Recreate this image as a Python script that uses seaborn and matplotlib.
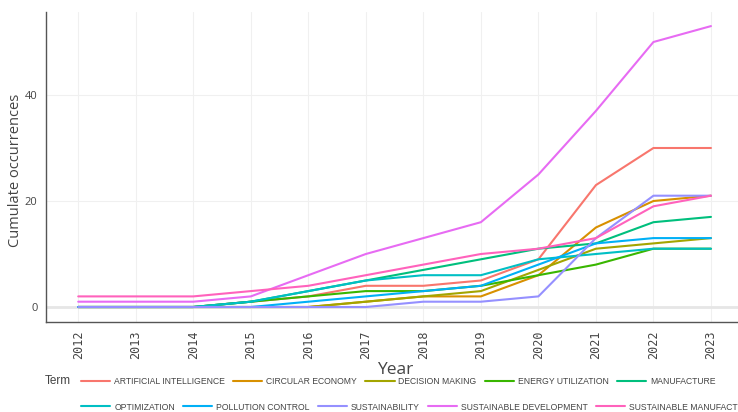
import matplotlib
matplotlib.use("Agg")
import matplotlib.pyplot as plt
from matplotlib import font_manager
import seaborn as sns
import pandas as pd

years = list(range(2012, 2024))
terms = [
    "ARTIFICIAL INTELLIGENCE", "CIRCULAR ECONOMY", "DECISION MAKING",
    "ENERGY UTILIZATION", "MANUFACTURE", "OPTIMIZATION", "POLLUTION CONTROL",
    "SUSTAINABILITY", "SUSTAINABLE DEVELOPMENT", "SUSTAINABLE MANUFACTURING",
]
artificial_intelligence = [0, 0, 0, 1, 2, 4, 4, 5, 9, 23, 30, 30]
circular_economy = [0, 0, 0, 0, 0, 1, 2, 2, 6, 15, 20, 21]
decision_making = [0, 0, 0, 0, 0, 1, 2, 3, 7, 11, 12, 13]
energy_utilization = [0, 0, 0, 1, 2, 3, 3, 4, 6, 8, 11, 11]
manufacture = [0, 0, 0, 1, 3, 5, 7, 9, 11, 12, 16, 17]
optimization = [0, 0, 0, 1, 3, 5, 6, 6, 9, 10, 11, 11]
pollution_control = [0, 0, 0, 0, 1, 2, 3, 4, 8, 12, 13, 13]
sustainability = [0, 0, 0, 0, 0, 0, 1, 1, 2, 13, 21, 21]
sustainable_development = [1, 1, 1, 2, 6, 10, 13, 16, 25, 37, 50, 53]
sustainable_manufacturing = [2, 2, 2, 3, 4, 6, 8, 10, 11, 13, 19, 21]

series = [
    artificial_intelligence, circular_economy, decision_making,
    energy_utilization, manufacture, optimization, pollution_control,
    sustainability, sustainable_development, sustainable_manufacturing,
]
palette = ["#F8766D", "#D89000", "#A3A500", "#39B600", "#00BF7D",
           "#00BFC4", "#00B0F6", "#9590FF", "#E76BF3", "#FF62BC"]

rows = []
for term, vals in zip(terms, series):
    for y, v in zip(years, vals):
        rows.append({"Year": y, "Cumulate occurrences": v, "Term": term})
df = pd.DataFrame(rows)

sns.set_theme(style="white")
installed = {f.name for f in font_manager.fontManager.ttflist}
base_font = "Open Sans" if "Open Sans" in installed else "DejaVu Sans"
narrow_font = "Liberation Sans Narrow" if "Liberation Sans Narrow" in installed else "Liberation Sans"
plt.rcParams["font.family"] = [base_font, "DejaVu Sans"]

fig = plt.figure(figsize=(7.38, 4.12), dpi=100)
ax = fig.add_axes([46 / 738, (412 - 322) / 412, (738 - 46) / 738, (322 - 12) / 412])

# grid and zero line drawn beneath the data
for y in years:
    ax.axvline(y, color="#f0f0f0", lw=0.8, zorder=0)
for g in (20, 40):
    ax.axhline(g, color="#f0f0f0", lw=0.8, zorder=0)
ax.axhline(0, color="#e6e6e6", lw=2.0, zorder=0)

sns.lineplot(data=df, x="Year", y="Cumulate occurrences", hue="Term",
             hue_order=terms, palette=palette, linewidth=1.5, ax=ax,
             estimator=None, legend=True, zorder=3)

handles, labels = ax.get_legend_handles_labels()
ax.get_legend().remove()

ax.set_xlim(2011.44, 2023.47)
ax.set_ylim(-2.83, 55.66)
ax.set_xticks(years)
ax.set_xticklabels([str(y) for y in years], rotation=90,
                   family="DejaVu Sans Mono", fontsize=8.5, color="#444444")
ax.set_yticks([0, 20, 40])
ax.set_yticklabels(["0", "20", "40"], fontsize=8, color="#444444")
ax.tick_params(axis="both", direction="out", length=4, width=0.8,
               color="#555555", pad=2)

for side in ("top", "right"):
    ax.spines[side].set_visible(False)
for side in ("left", "bottom"):
    ax.spines[side].set_color("#555555")
    ax.spines[side].set_linewidth(1.0)

ax.set_ylabel("")
ax.set_xlabel("")
fig.text(16 / 738, (412 - 170) / 412, "Cumulate occurrences", fontsize=10.5,
         color="#444444", rotation=90, ha="center", va="center")
fig.text(395 / 738, (412 - 370) / 412, "Year", fontsize=12.5, color="#444444",
         ha="center", va="center")

fig.text(45 / 738, (412 - 381) / 412, "Term", fontsize=8.5, color="#444444",
         ha="left", va="center", family=narrow_font)

legend_kw = dict(frameon=False, ncol=5, handlelength=3.4,
                 handletextpad=0.45, columnspacing=0.95, borderpad=0,
                 borderaxespad=0, loc="center left",
                 prop={"family": narrow_font, "size": 6.2})
for lh in handles:
    lh.set_linewidth(1.5)
leg1 = fig.legend(handles[:5], labels[:5], bbox_to_anchor=(81 / 738, (412 - 382) / 412), **legend_kw)
leg2 = fig.legend(handles[5:], labels[5:], bbox_to_anchor=(81 / 738, (412 - 407) / 412), **legend_kw)
for leg in (leg1, leg2):
    for t in leg.get_texts():
        t.set_color("#444444")

fig.savefig("out.png", dpi=100)
